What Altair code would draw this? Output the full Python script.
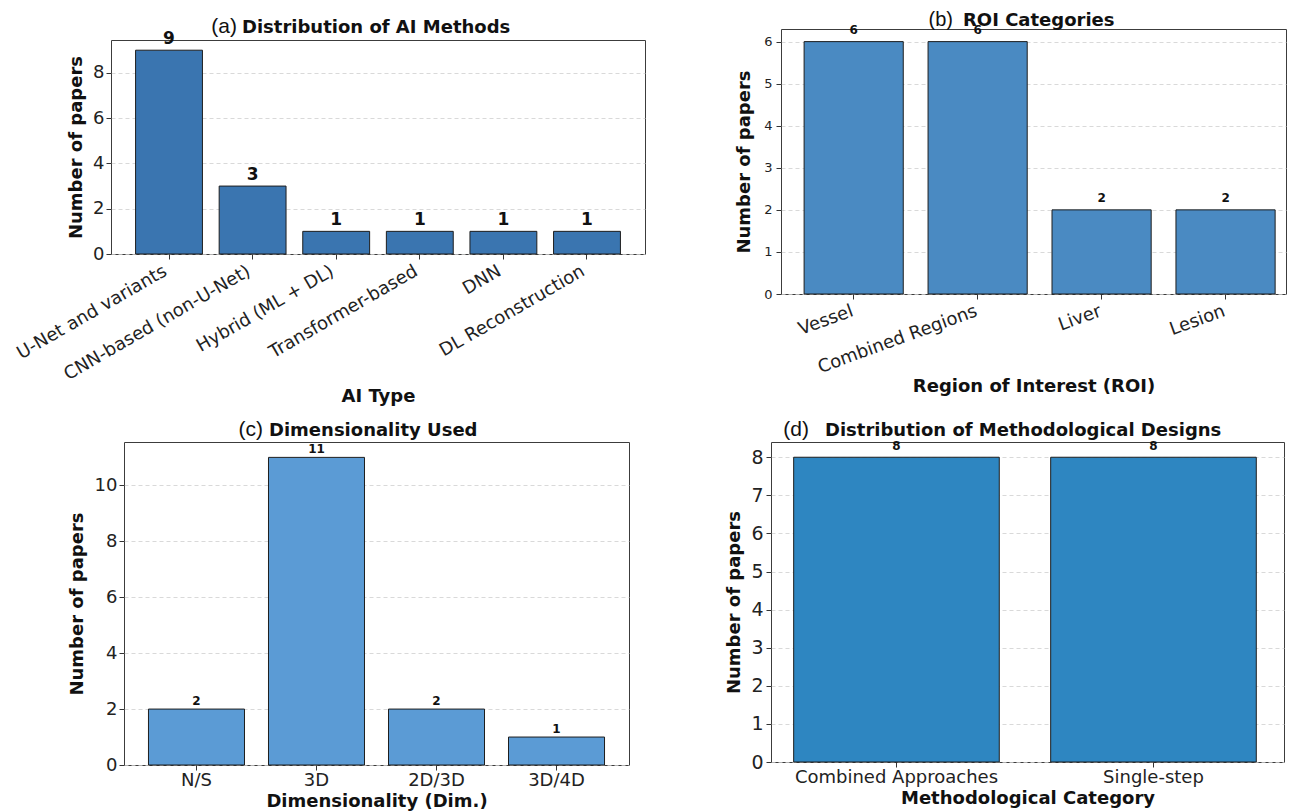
import altair as alt
import pandas as pd

# ---------------- data ----------------
a_cats = ["U-Net and variants", "CNN-based (non-U-Net)", "Hybrid (ML + DL)",
          "Transformer-based", "DNN", "DL Reconstruction"]
a_vals = [9, 3, 1, 1, 1, 1]

b_cats = ["Vessel", "Combined Regions", "Liver", "Lesion"]
b_vals = [6, 6, 2, 2]

c_cats = ["N/S", "3D", "2D/3D", "3D/4D"]
c_vals = [2, 11, 2, 1]

d_cats = ["Combined Approaches", "Single-step"]
d_vals = [8, 8]

FONT = "DejaVu Sans"
TAGFONT = "Liberation Sans"


def panel(cats, vals, color, w, h, ymax, yvals, *, po, align=0.5,
          ytick_fs, xlab_fs, xangle, xtitle, xlab_pad, xtitle_pad, xlab_off,
          ylab_pad, ytitle_pad, val_fs, val_dy,
          tag, title, tag_x, title_x, title_y, tag_fs, sp_x, sp_y1, sp_y2):
    df = pd.DataFrame({"cat": cats, "n": vals})
    if xangle == 0:
        lab_align, lab_base = "center", "top"
    else:
        lab_align, lab_base = "right", "top"
    x = alt.X("cat:N", sort=cats,
              scale=alt.Scale(paddingInner=0.2, paddingOuter=po, align=align),
              axis=alt.Axis(title=xtitle, labelAngle=xangle, labelAlign=lab_align,
                            labelBaseline=lab_base, labelFontSize=xlab_fs,
                            labelPadding=xlab_pad, titlePadding=xtitle_pad,
                            labelOffset=xlab_off,
                            titleFontSize=18, titleFontWeight="bold",
                            labelLimit=0, domain=False, tickSize=5, grid=False))
    y = alt.Y("n:Q", scale=alt.Scale(domain=[0, ymax], nice=False, zero=True),
              axis=alt.Axis(title="Number of papers", values=yvals, format="d",
                            labelFontSize=ytick_fs, labelPadding=ylab_pad,
                            titlePadding=ytitle_pad, titleFontSize=18,
                            titleFontWeight="bold", domain=False, tickSize=5,
                            grid=True, gridDash=[4, 3], gridColor="#cfcfcf",
                            gridWidth=0.8, labelOverlap=False))
    base = alt.Chart(df)
    bars = base.mark_bar(color=color, stroke="#1e1e1e", strokeWidth=1).encode(x=x, y=y)
    labels = base.mark_text(font=FONT, fontWeight="bold", fontSize=val_fs,
                            baseline="alphabetic", dy=-val_dy, color="#111").encode(
        x=x, y=y, text="n:Q")
    tdf = pd.DataFrame({"tag": [tag], "title": [title]})
    tag_mark = alt.Chart(tdf).mark_text(font=TAGFONT, fontSize=tag_fs, align="right",
                                        baseline="alphabetic", color="#111").encode(
        x=alt.value(tag_x), y=alt.value(title_y), text="tag:N")
    title_mark = alt.Chart(tdf).mark_text(font=FONT, fontSize=18, fontWeight="bold",
                                          align="left", baseline="alphabetic",
                                          color="#111").encode(
        x=alt.value(title_x), y=alt.value(title_y), text="title:N")
    spacer = alt.Chart(pd.DataFrame({"s": [0]})).mark_rule(opacity=0).encode(
        x=alt.value(sp_x), x2=alt.value(sp_x), y=alt.value(sp_y1), y2=alt.value(sp_y2))
    return alt.layer(bars, labels, tag_mark, title_mark, spacer).properties(
        width=w, height=h)


def dummy():
    return alt.Chart(pd.DataFrame({"s": [0]})).mark_rule(opacity=0).encode(
        x=alt.value(0), x2=alt.value(0), y=alt.value(0), y2=alt.value(0)
    ).properties(width=1, height=1,
                 view=alt.ViewBackground(stroke="transparent", strokeWidth=0))


pa = panel(a_cats, a_vals, "#3a75b0", 534, 214, 9.45, [0, 2, 4, 6, 8],
           po=0.294, ytick_fs=18, xlab_fs=18, xangle=-30, xtitle="AI Type",
           xlab_pad=3, xtitle_pad=4, xlab_off=-8, ylab_pad=2, ytitle_pad=7,
           val_fs=17, val_dy=6,
           tag="(a)", title="Distribution of AI Methods", tag_x=126, title_x=131,
           title_y=-7, tag_fs=21, sp_x=-96, sp_y1=-30, sp_y2=371)

pb = panel(b_cats, b_vals, "#4a8ac2", 505, 265, 6.3, [0, 1, 2, 3, 4, 5, 6],
           po=0.137, align=0.68, ytick_fs=13, xlab_fs=18, xangle=-20,
           xtitle="Region of Interest (ROI)", xlab_pad=3, xtitle_pad=1, xlab_off=-4,
           ylab_pad=4, ytitle_pad=10, val_fs=12, val_dy=8,
           tag="(b)", title="ROI Categories", tag_x=172, title_x=182,
           title_y=-3, tag_fs=20, sp_x=-130, sp_y1=-19, sp_y2=382)

pc = panel(c_cats, c_vals, "#5b9bd5", 505, 323, 11.55, [0, 2, 4, 6, 8, 10],
           po=0.204, ytick_fs=18, xlab_fs=18, xangle=0,
           xtitle="Dimensionality (Dim.)", xlab_pad=1, xtitle_pad=3, xlab_off=0,
           ylab_pad=2, ytitle_pad=8, val_fs=12, val_dy=4,
           tag="(c)", title="Dimensionality Used", tag_x=139, title_x=145,
           title_y=-6, tag_fs=21, sp_x=-110, sp_y1=-29, sp_y2=0)

pd_ = panel(d_cats, d_vals, "#2e86c1", 513, 320, 8.4, [0, 1, 2, 3, 4, 5, 6, 7, 8],
            po=0.098, align=0.45, ytick_fs=19, xlab_fs=18, xangle=0,
            xtitle="Methodological Category", xlab_pad=1, xtitle_pad=3, xlab_off=0,
            ylab_pad=3, ytitle_pad=7, val_fs=12, val_dy=7,
            tag="(d)", title="Distribution of Methodological Designs", tag_x=38,
            title_x=54, title_y=-6, tag_fs=21, sp_x=-136, sp_y1=-29, sp_y2=0)

top_row = alt.hconcat(
    dummy(),
    alt.vconcat(dummy(), pa, spacing=0),
    alt.vconcat(dummy(), pb, spacing=0),
    spacing=4,
)
bottom_row = alt.hconcat(dummy(), pc, pd_, spacing=4)

chart = alt.vconcat(top_row, bottom_row, spacing=0).properties(
    padding=0, background="white"
).configure_view(
    stroke="#3c3c3c", strokeWidth=1
).configure_axis(
    labelFont=FONT, titleFont=FONT, labelColor="#222", titleColor="#111",
    tickColor="#333", tickWidth=1
)

chart.save("out.html", embed_options={"renderer": "svg", "actions": False})
